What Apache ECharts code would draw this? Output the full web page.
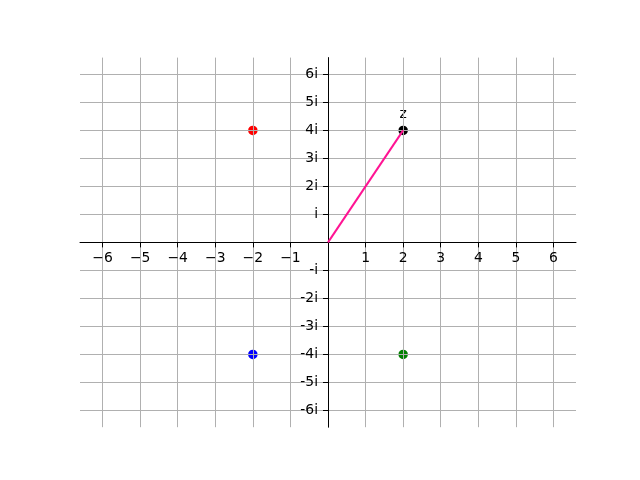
<!DOCTYPE html>
<html>
<head>
<meta charset="utf-8">
<script src="https://cdn.jsdelivr.net/npm/echarts@6/dist/echarts.min.js"></script>
<style>html,body{margin:0;padding:0;background:#fff}#c{width:640px;height:480px}</style>
</head>
<body>
<div id="c"></div>
<script>
// ---- data ----
const axisMin = -6.6;
const axisMax = 6.6;
const xTickValues = [-6, -5, -4, -3, -2, -1, 0, 1, 2, 3, 4, 5, 6];
const xTickLabels = ['\u22126', '\u22125', '\u22124', '\u22123', '\u22122', '\u22121', '', '1', '2', '3', '4', '5', '6'];
const yTickValues = [-6, -5, -4, -3, -2, -1, 0, 1, 2, 3, 4, 5, 6];
const yTickLabels = ['-6i', '-5i', '-4i', '-3i', '-2i', '-i', '', 'i', '2i', '3i', '4i', '5i', '6i'];
const pointNames = ['z', 'p1', 'p2', 'p3'];
const pointRe = [2, -2, -2, 2];
const pointIm = [4, 4, -4, -4];
const pointLabels = ['z', '', '', ''];
const vectorRe = [0, 2];
const vectorIm = [0, 4];

// ---- styles ----
const pointColors = ['#000000', '#ff0000', '#0000ff', '#008000'];
const font = 'DejaVu Sans';
const fs = 13.9;
const gridLeft = 80, gridRight = 64, gridTop = 57.6, gridBottom = 52.8;
const plotW = 640 - gridLeft - gridRight;
const plotH = 480 - gridTop - gridBottom;

const chart = echarts.init(document.getElementById('c'), null, {renderer: 'canvas'});

function labelFor(values, labels) {
  return function (v) {
    for (let i = 0; i < values.length; i++) {
      if (Math.abs(values[i] - v) < 1e-9) return labels[i];
    }
    return '';
  };
}

const scatterData = pointRe.map((re, i) => ({
  name: pointNames[i],
  value: [re, pointIm[i]],
  itemStyle: {color: pointColors[i], opacity: 1},
  label: {show: pointLabels[i] !== '', formatter: pointLabels[i]}
}));

const axisCommon = {
  type: 'value',
  min: axisMin,
  max: axisMax,
  z: 3,
  axisLine: {show: true, onZero: false, lineStyle: {color: '#000', width: 1}},
  splitLine: {show: true, lineStyle: {color: '#b0b0b0', width: 1}}
};

chart.setOption({
  animation: false,
  backgroundColor: '#ffffff',
  grid: {left: gridLeft, right: gridRight, top: gridTop, bottom: gridBottom, containLabel: false},
  xAxis: Object.assign({}, axisCommon, {
    position: 'bottom',
    offset: -plotH / 2,
    axisTick: {show: true, inside: false, length: 5, customValues: xTickValues, lineStyle: {color: '#000', width: 1}},
    axisLabel: {
      customValues: xTickValues.filter((v, i) => xTickLabels[i] !== ''),
      formatter: labelFor(xTickValues, xTickLabels),
      color: '#000', fontFamily: font, fontSize: fs, margin: 9
    }
  }),
  yAxis: Object.assign({}, axisCommon, {
    position: 'left',
    offset: -plotW / 2,
    axisTick: {show: true, inside: false, length: 5, customValues: yTickValues, lineStyle: {color: '#000', width: 1}},
    axisLabel: {
      customValues: yTickValues.filter((v, i) => yTickLabels[i] !== ''),
      formatter: labelFor(yTickValues, yTickLabels),
      color: '#000', fontFamily: font, fontSize: fs, margin: 10
    }
  }),
  series: [
    {
      type: 'scatter',
      z: 2,
      symbol: 'circle',
      symbolSize: 9.5,
      data: scatterData,
      itemStyle: {opacity: 1},
      label: {position: 'top', distance: 4, color: '#000', fontFamily: font, fontSize: fs}
    },
    {
      type: 'line',
      z: 4,
      data: vectorRe.map((re, i) => [re, vectorIm[i]]),
      showSymbol: false,
      symbol: 'none',
      lineStyle: {color: '#ff1493', width: 2}
    }
  ]
});
</script>
</body>
</html>
